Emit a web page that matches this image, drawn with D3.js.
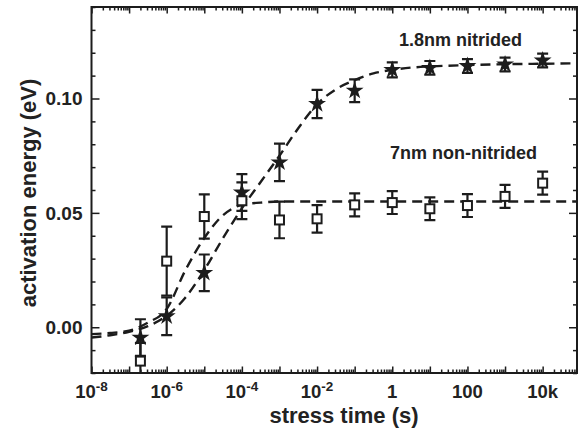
<!DOCTYPE html>
<html><head><meta charset="utf-8">
<script src="https://cdn.jsdelivr.net/npm/d3@7"></script>
<style>
body{margin:0;background:#fff}
svg{display:block}
text{font-family:"Liberation Sans",Arial,Helvetica,sans-serif;font-weight:bold;fill:#222}
</style>
</head><body>
<svg id="chart" width="583" height="431"></svg>
<script>
// ---- data ----
const stressTimes = [2e-7, 1e-6, 1e-5, 1e-4, 1e-3, 1e-2, 0.1, 1, 10, 100, 1000, 1e4];
const nitridedE   = [-0.0045, 0.0048, 0.0238, 0.0589, 0.0721, 0.0976, 0.1034, 0.1125, 0.1134, 0.1142, 0.1149, 0.1166];
const nitridedErr = [0.008, 0.0082, 0.008, 0.008, 0.0082, 0.0062, 0.005, 0.0033, 0.003, 0.003, 0.003, 0.003];
const nonNitridedE   = [-0.0148, 0.0289, 0.0484, 0.0553, 0.0469, 0.0474, 0.0535, 0.0545, 0.0518, 0.0532, 0.0572, 0.063];
const nonNitridedErr = [0.008, 0.0151, 0.0097, 0.008, 0.008, 0.006, 0.005, 0.005, 0.005, 0.005, 0.005, 0.005];

const fitTimes = [1e-8, 3.16e-8, 1e-7, 3.16e-7, 1e-6, 3.16e-6, 1e-5, 3.16e-5, 1e-4, 3.16e-4, 1e-3, 3.16e-3,
                  1e-2, 3.16e-2, 0.1, 0.316, 1, 3.16, 10, 100, 1000, 1e4, 8.2e4];
const nitridedFit    = [-0.0045, -0.0035, -0.002, 0.0005, 0.005, 0.013, 0.025, 0.039, 0.052, 0.0635, 0.075, 0.087,
                        0.0975, 0.104, 0.108, 0.111, 0.1125, 0.1135, 0.114, 0.1146, 0.115, 0.1152, 0.1154];
const nonNitridedFit = [-0.003, -0.0025, -0.0015, 0.002, 0.008, 0.025, 0.039, 0.049, 0.0535, 0.0545, 0.055, 0.055,
                        0.055, 0.055, 0.055, 0.055, 0.055, 0.055, 0.055, 0.055, 0.055, 0.055, 0.055];

const xTickValues = [1e-8, 1e-6, 1e-4, 1e-2, 1, 100, 1e4];
const xTickBase   = ["10", "10", "10", "10", "1", "100", "10k"];
const xTickExp    = ["-8", "-6", "-4", "-2", "", "", ""];
const yTickValues = [0.00, 0.05, 0.10];
const yTickLabels = ["0.00", "0.05", "0.10"];
const seriesLabels = ["1.8nm nitrided", "7nm non-nitrided"];
const xTitle = "stress time (s)";
const yTitle = "activation energy (eV)";

// ---- layout ----
const L = 91.5, R = 577, T = 7, B = 373;
const ink = "#1c1c1c";
const svg = d3.select("#chart");

const x = d3.scaleLog().domain([1e-8, 8.2e4]).range([L, R]);
const y = d3.scaleLinear().domain([-0.02, 0.14]).range([B, T]);

svg.append("defs").append("clipPath").attr("id", "clip")
  .append("rect").attr("x", L).attr("y", T).attr("width", R - L).attr("height", B - T);

// ticks
const decades = d3.range(-8, 5).map(e => Math.pow(10, e));
const minorX = [];
d3.range(-8, 5).forEach(e => { for (let k = 2; k <= 9; k++) { const v = k * Math.pow(10, e); if (v <= 8.2e4) minorX.push(v); } });
const minorY = d3.range(-2, 15).map(i => +(i * 0.01).toFixed(2)).filter(v => yTickValues.indexOf(v) < 0);

function styleAxis(g) {
  g.select(".domain").remove();
  g.selectAll("line").attr("stroke", ink).attr("stroke-width", 1.5);
}
svg.append("g").attr("transform", `translate(0,${B})`)
  .call(d3.axisBottom(x).tickValues(minorX).tickSize(-3.5).tickFormat("")).call(styleAxis);
svg.append("g").attr("transform", `translate(0,${B})`)
  .call(d3.axisBottom(x).tickValues(decades).tickSize(-6.5).tickFormat("")).call(styleAxis);
svg.append("g").attr("transform", `translate(0,${T})`)
  .call(d3.axisTop(x).tickValues(minorX).tickSize(-3.5).tickFormat("")).call(styleAxis);
svg.append("g").attr("transform", `translate(0,${T})`)
  .call(d3.axisTop(x).tickValues(decades).tickSize(-6.5).tickFormat("")).call(styleAxis);
svg.append("g").attr("transform", `translate(${L},0)`)
  .call(d3.axisLeft(y).tickValues(minorY).tickSize(-4).tickFormat("")).call(styleAxis);
svg.append("g").attr("transform", `translate(${L},0)`)
  .call(d3.axisLeft(y).tickValues(yTickValues).tickSize(-8).tickFormat("")).call(styleAxis);
svg.append("g").attr("transform", `translate(${R},0)`)
  .call(d3.axisRight(y).tickValues(minorY).tickSize(-4).tickFormat("")).call(styleAxis);
svg.append("g").attr("transform", `translate(${R},0)`)
  .call(d3.axisRight(y).tickValues(yTickValues).tickSize(-8).tickFormat("")).call(styleAxis);

// tick labels
yTickValues.forEach((v, i) => {
  svg.append("text").attr("x", L - 9).attr("y", y(v)).attr("dy", "0.36em")
    .attr("text-anchor", "end").attr("font-size", 19).text(yTickLabels[i]);
});
xTickValues.forEach((v, i) => {
  const t = svg.append("text").attr("x", x(v)).attr("y", 397.5)
    .attr("text-anchor", "middle").attr("font-size", 18.5);
  t.append("tspan").text(xTickBase[i]);
  if (xTickExp[i]) t.append("tspan").attr("font-size", 13.5).attr("dy", -7).text(xTickExp[i]);
});

// titles
svg.append("text").attr("x", 344).attr("y", 423).attr("text-anchor", "middle")
  .attr("font-size", 22).text(xTitle);
svg.append("text").attr("transform", "translate(36,193) rotate(-90)").attr("text-anchor", "middle")
  .attr("font-size", 22).text(yTitle);

// fits
const plot = svg.append("g").attr("clip-path", "url(#clip)");
const line = d3.line().x(d => x(d[0])).y(d => y(d[1])).curve(d3.curveMonotoneX);
[nitridedFit, nonNitridedFit].forEach(arr => {
  plot.append("path").datum(fitTimes.map((t, i) => [t, arr[i]]))
    .attr("d", line).attr("fill", "none").attr("stroke", ink)
    .attr("stroke-width", 2.4).attr("stroke-dasharray", "10,6");
});

// error bars
function errorBars(vals, errs) {
  const g = plot.append("g").attr("stroke", ink).attr("stroke-width", 2.2);
  stressTimes.forEach((t, i) => {
    const cx = x(t), y1 = y(vals[i] + errs[i]), y2 = y(vals[i] - errs[i]);
    g.append("line").attr("x1", cx).attr("x2", cx).attr("y1", y1).attr("y2", y2);
    g.append("line").attr("x1", cx - 5.5).attr("x2", cx + 5.5).attr("y1", y1).attr("y2", y1);
    g.append("line").attr("x1", cx - 5.5).attr("x2", cx + 5.5).attr("y1", y2).attr("y2", y2);
  });
}
errorBars(nitridedE, nitridedErr);
errorBars(nonNitridedE, nonNitridedErr);

// stars
const star = d3.symbol().type(d3.symbolStar).size(100);
plot.append("g").selectAll("path").data(stressTimes).join("path")
  .attr("transform", (t, i) => `translate(${x(t)},${y(nitridedE[i])})`)
  .attr("d", star).attr("fill", ink);

// squares
plot.append("g").selectAll("rect").data(stressTimes).join("rect")
  .attr("x", t => x(t) - 4.5).attr("y", (t, i) => y(nonNitridedE[i]) - 4.5)
  .attr("width", 9).attr("height", 9)
  .attr("fill", "#fff").attr("stroke", ink).attr("stroke-width", 2);

// series labels
svg.append("text").attr("x", 399).attr("y", 46).attr("font-size", 18).text(seriesLabels[0]);
svg.append("text").attr("x", 390).attr("y", 158.5).attr("font-size", 18).text(seriesLabels[1]);

// frame
svg.append("rect").attr("x", L).attr("y", T).attr("width", R - L).attr("height", B - T)
  .attr("fill", "none").attr("stroke", ink).attr("stroke-width", 2);
</script>
</body></html>
